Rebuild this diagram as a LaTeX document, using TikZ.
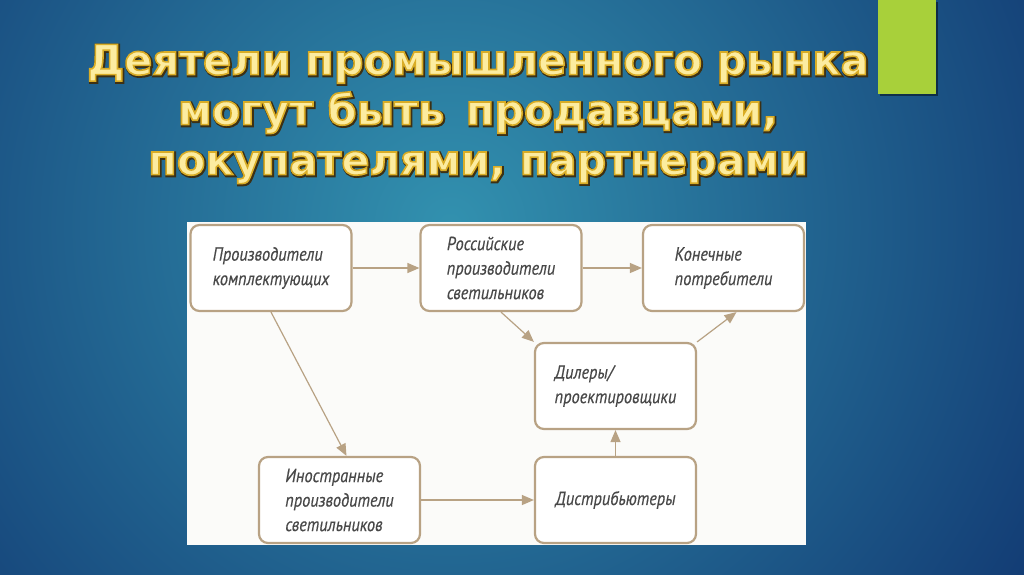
\documentclass[tikz,border=0pt]{standalone}
\usepackage{fontspec}
\setmainfont{DejaVu Sans}
\newfontfamily\titlefont{DejaVu Sans}
\newfontfamily\boxfont[FakeStretch=0.86,FakeBold=0.4]{PT Sans}
\usetikzlibrary{arrows.meta,positioning}

\definecolor{bgdark}{RGB}{12,42,104}
\definecolor{bglight}{RGB}{50,145,175}
\definecolor{barlime}{RGB}{168,208,58}
\definecolor{titleyellow}{RGB}{252,236,160}
\definecolor{titleshade}{RGB}{60,48,20}
\definecolor{panelwhite}{RGB}{251,251,249}
\definecolor{boxtan}{RGB}{184,162,132}
\definecolor{boxtext}{RGB}{72,72,72}

% gold rim and dark rim round the heading letters
\newcommand{\goldrim}{\special{pdf:literal 0.85 0.68 0.15 RG 1.6 w 2 Tr}}
\newcommand{\darkrim}{\special{pdf:literal 3.4 w 2 Tr}}

\tikzstyle{box}=[draw=boxtan,line width=2.2pt,rounded corners=9pt,fill=white,minimum width=161pt,minimum height=86pt,inner sep=0pt,align=left,text=boxtext,font=\boxfont\itshape\fontsize{19}{24.5}\selectfont]
\tikzstyle{link}=[draw=boxtan,line width=1.2pt,-{Triangle[length=12pt,width=10pt]}]
\tikzstyle{title}=[font=\titlefont\bfseries\fontsize{41.5}{50}\selectfont,align=center]

\begin{document}
\begin{tikzpicture}[x=1pt,y=-1pt]
    \useasboundingbox (0,0) rectangle (1024,574);
    % background and side bar
    \begin{scope}
        \clip (0,0) rectangle (1024,574);
        \fill[inner color=bglight,outer color=bgdark] (450,225) circle (820pt);
    \end{scope}
    \fill[black,opacity=0.45] (880,2) rectangle (938,96);
    \fill[barlime] (878,0) rectangle (936,94);
    % heading
    \node[title,text=titleshade] (headshadow) at (479,115) {\darkrim Деятели промышленного рынка\\\darkrim могут быть\, продавцами,\\\darkrim покупателями, партнерами};
    \node[title,text=titleyellow] (head) at (478,114) {\goldrim Деятели промышленного рынка\\\goldrim могут быть\, продавцами,\\\goldrim покупателями, партнерами};
    % white panel
    \fill[panelwhite] (187,222) rectangle (806,545);
    % the boxes
    \foreach \pos/\name/\txt in {{(271,268)/comp/Производители\\комплектующих},
                                 {(501,268)/rusmak/Российские\\производители\\светильников},
                                 {(723.5,268)/enduse/Конечные\\потребители},
                                 {(615.5,386)/dealers/{Дилеры/\\проектировщики}},
                                 {(339.5,500)/formak/Иностранные\\производители\\светильников},
                                 {(615.5,500)/distrib/Дистрибьютеры}}
        \node[box] (\name) at \pos {\txt};
    % arrows between them
    \foreach \source/\dest/\dx in {comp.east/rusmak.west/0, rusmak.east/enduse.west/0,
                                   comp.south/formak.north/7, rusmak.south/dealers.north west/0,
                                   dealers.north east/enduse.south/13,
                                   formak.east/distrib.west/0, distrib.north/dealers.south/0}
        \path[link] (\source) -- ([xshift=\dx pt]\dest);
\end{tikzpicture}
\end{document}
